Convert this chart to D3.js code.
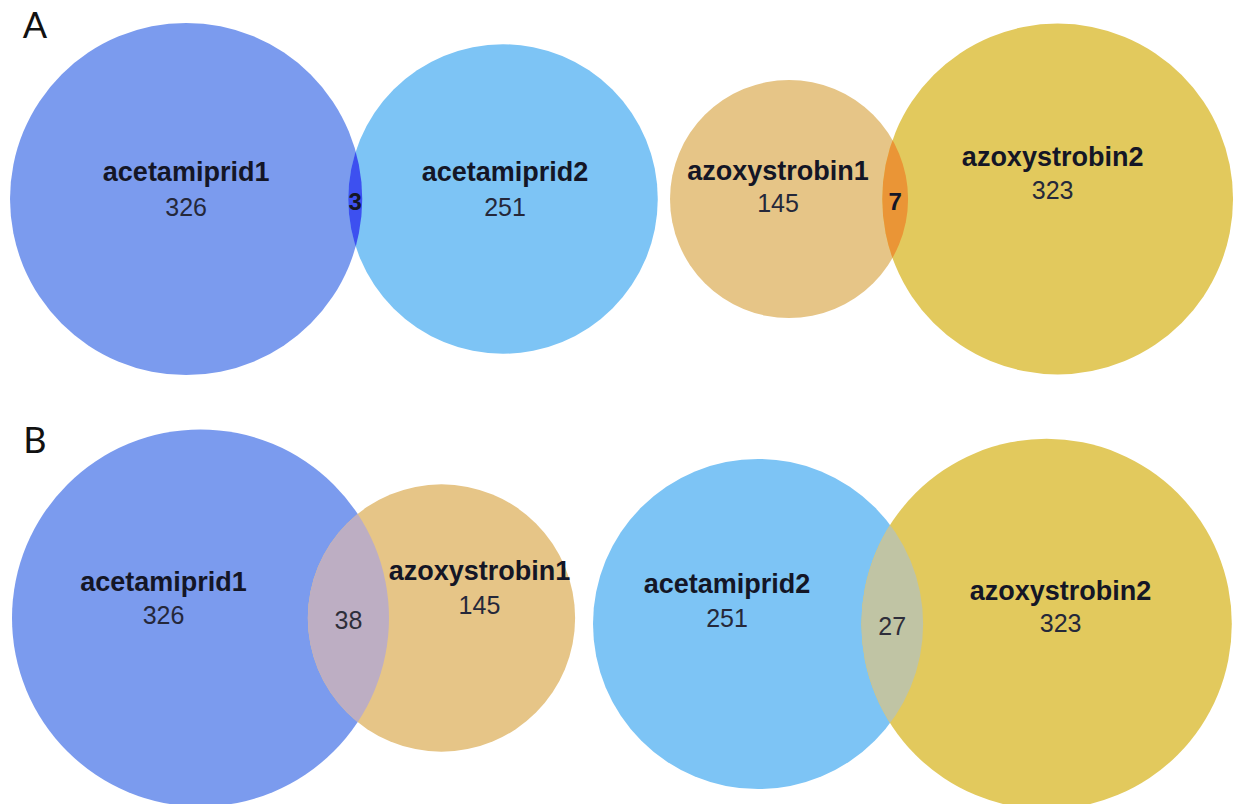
<!DOCTYPE html>
<html>
<head>
<meta charset="utf-8">
<script src="https://cdn.jsdelivr.net/npm/d3@7"></script>
<style>
  body { margin: 0; background: #ffffff; }
  svg { display: block; }
</style>
</head>
<body>
<svg id="chart" width="1237" height="804"></svg>
<script>
// ---- Data: four two-set Venn diagrams (counts of exclusive and shared items) ----
const panels      = ["A", "B"];
const diagramPanel = ["A", "A", "B", "B"];
const leftSet     = ["acetamiprid1", "azoxystrobin1", "acetamiprid1", "acetamiprid2"];
const rightSet    = ["acetamiprid2", "azoxystrobin2", "azoxystrobin1", "azoxystrobin2"];
const leftOnly    = [326, 145, 326, 251];
const rightOnly   = [251, 323, 145, 323];
const shared      = [3, 7, 38, 27];

// ---- Styling / layout ----
const setColor = {
  acetamiprid1: "#7b9bee",
  acetamiprid2: "#7dc4f5",
  azoxystrobin1: "#e6c587",
  azoxystrobin2: "#e2c95d"
};
const lensColor = ["#3d50f0", "#ea9536", "#bdaec3", "#c0c4a4"];
// left edge of each diagram, its vertical centre line, and area scale (px per sqrt(item))
const boxes = [
  { x0: 10,  cy: 199, k: 9.71 },
  { x0: 670, cy: 199, k: 9.655 },
  { x0: 12,  cy: 618, k: 9.88 },
  { x0: 593, cy: 624, k: 9.9 }
];
// name/count label offsets from each circle centre: [dx, dyName, dyCount]
const leftLabelOffset  = [[0, -27, 8], [-11, -28, 4], [-37, -36, -3], [-31, -40, -6]];
const rightLabelOffset = [[2, -27, 8], [-5, -42, -9], [38, -47, -13], [14, -33, -1]];
const panelLetterPos = { A: [35, 24], B: [35, 439] };

const svg = d3.select("#chart");

// area of the lens shared by two circles whose centres are d apart
function lensArea(r1, r2, d) {
  if (d >= r1 + r2) return 0;
  if (d <= Math.abs(r1 - r2)) return Math.PI * Math.min(r1, r2) ** 2;
  const a1 = Math.acos((d * d + r1 * r1 - r2 * r2) / (2 * d * r1));
  const a2 = Math.acos((d * d + r2 * r2 - r1 * r1) / (2 * d * r2));
  const t = Math.sqrt((-d + r1 + r2) * (d + r1 - r2) * (d - r1 + r2) * (d + r1 + r2));
  return r1 * r1 * a1 + r2 * r2 * a2 - 0.5 * t;
}

// centre distance giving the target lens area (bisection)
function centreDistance(r1, r2, target) {
  let lo = Math.abs(r1 - r2), hi = r1 + r2;
  for (let i = 0; i < 80; i++) {
    const mid = (lo + hi) / 2;
    if (lensArea(r1, r2, mid) > target) lo = mid; else hi = mid;
  }
  return (lo + hi) / 2;
}

const defs = svg.append("defs");
const font = "'Liberation Sans', Arial, Helvetica, sans-serif";

leftSet.forEach((name, i) => {
  const box = boxes[i];
  const rScale = d3.scaleSqrt().domain([0, 1]).range([0, box.k]);
  const areaPerItem = Math.PI * box.k * box.k;
  const totalL = leftOnly[i] + shared[i];
  const totalR = rightOnly[i] + shared[i];
  const r1 = rScale(totalL), r2 = rScale(totalR);
  const d = centreDistance(r1, r2, areaPerItem * shared[i]);
  const c1 = box.x0 + r1, c2 = c1 + d, cy = box.cy;

  const g = svg.append("g").attr("class", "venn venn-" + i);

  g.append("circle").attr("cx", c1).attr("cy", cy).attr("r", r1)
    .attr("fill", setColor[name]);
  g.append("circle").attr("cx", c2).attr("cy", cy).attr("r", r2)
    .attr("fill", setColor[rightSet[i]]);

  // intersection: right circle clipped to the left one
  const clipId = "clip-left-" + i;
  defs.append("clipPath").attr("id", clipId)
    .append("circle").attr("cx", c1).attr("cy", cy).attr("r", r1);
  g.append("circle").attr("cx", c2).attr("cy", cy).attr("r", r2)
    .attr("clip-path", `url(#${clipId})`)
    .attr("fill", lensColor[i]);

  const isA = diagramPanel[i] === "A";
  const setLabel = (cx, off, label, count) => {
    g.append("text")
      .attr("x", cx + off[0]).attr("y", cy + off[1])
      .attr("text-anchor", "middle").attr("dominant-baseline", "central")
      .attr("font-family", font)
      .attr("font-size", 27).attr("font-weight", "bold")
      .attr("fill", "#141626")
      .text(label);
    g.append("text")
      .attr("x", cx + off[0]).attr("y", cy + off[2])
      .attr("text-anchor", "middle").attr("dominant-baseline", "central")
      .attr("font-family", font)
      .attr("font-size", 25)
      .attr("fill", "#25283a")
      .text(count);
  };
  setLabel(c1, leftLabelOffset[i], name, leftOnly[i]);
  setLabel(c2, rightLabelOffset[i], rightSet[i], rightOnly[i]);

  // shared count centred in the lens
  const lensX = ((c2 - r2) + (c1 + r1)) / 2;
  g.append("text")
    .attr("x", lensX).attr("y", cy + 2)
    .attr("text-anchor", "middle").attr("dominant-baseline", "central")
    .attr("font-family", font)
    .attr("font-size", isA ? 24 : 25)
    .attr("font-weight", isA ? "bold" : "normal")
    .attr("fill", isA ? "#141626" : "#2e2e3a")
    .text(shared[i]);
});

// panel letters
panels.forEach(p => {
  svg.append("text")
    .attr("x", panelLetterPos[p][0]).attr("y", panelLetterPos[p][1])
    .attr("text-anchor", "middle").attr("dominant-baseline", "central")
    .attr("font-family", "Lato, 'Open Sans', sans-serif")
    .attr("font-size", 36)
    .attr("fill", "#111111")
    .text(p);
});
</script>
</body>
</html>
